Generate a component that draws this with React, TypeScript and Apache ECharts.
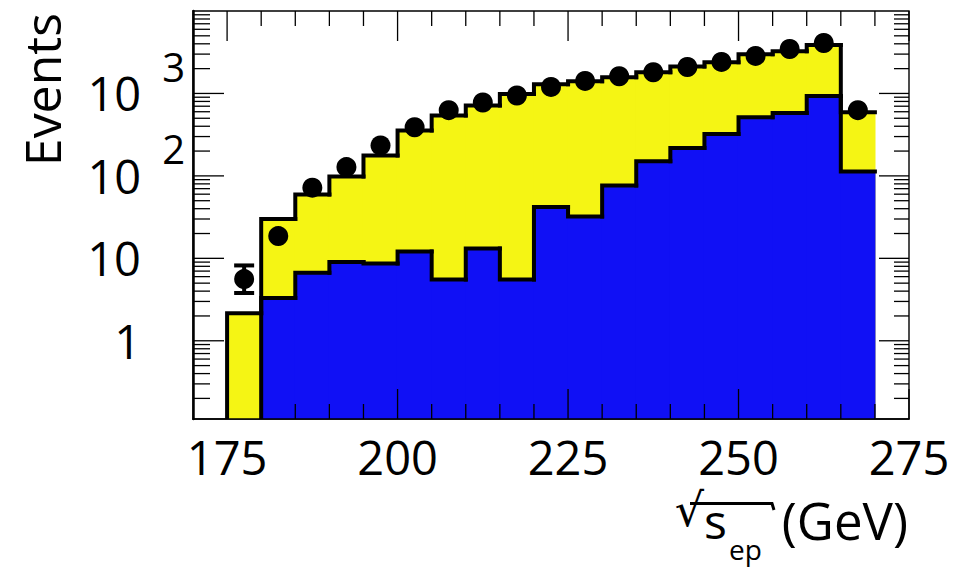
import React, { useEffect, useRef } from 'react';
import * as echarts from 'echarts';

// ---- data ----
const binEdges = [175, 180, 185, 190, 195, 200, 205, 210, 215, 220, 225, 230, 235, 240, 245, 250, 255, 260, 265, 270];
const totalMC = [2.15, 30.1, 59.5, 98, 177, 355, 540, 713, 986, 1290, 1406, 1571, 1806, 2118, 2388, 2985, 3246, 3872, 592];
const blueMC = [0, 3.3, 6.67, 9.0, 8.67, 12.1, 5.55, 13.2, 5.55, 41.8, 32.2, 76.5, 151, 218, 323, 515, 580, 933, 113];
const dataCounts = [5.6, 18.6, 72, 128, 234, 389, 626, 776, 944, 1199, 1419, 1616, 1806, 2094, 2410, 2851, 3459, 4094, 626];
// error bars that are visible outside the markers (others hidden by the marker)
const dataErrLow: (number | null)[] = [3.8, null, null, null, null, null, null, null, null, null, null, null, null, null, null, null, null, null, null];
const dataErrHigh: (number | null)[] = [8.2, null, null, null, null, null, null, null, null, null, null, null, null, null, null, null, null, null, null];

const xTickLabels = [175, 200, 225, 250, 275];
const xMinorTicks = [180, 185, 190, 195, 205, 210, 215, 220, 230, 235, 240, 245, 255, 260, 265, 270];
const yLabelValues = [1, 10, 100, 1000];
const yLabelBases = ['1', '10', '10', '10'];
const yLabelExps = ['', '', '2', '3'];
const yMinorTicks = [
  0.2, 0.3, 0.4, 0.5, 0.6, 0.7, 0.8, 0.9,
  2, 3, 4, 5, 6, 7, 8, 9,
  20, 30, 40, 50, 60, 70, 80, 90,
  200, 300, 400, 500, 600, 700, 800, 900,
  2000, 3000, 4000, 5000, 6000, 7000, 8000, 9000,
];

const X_MIN = 170;
const X_MAX = 275;
const Y_MIN = 0.1125;
const Y_MAX = 10000;

const FONT = '"Open Sans", "Noto Sans", sans-serif';
const YELLOW = '#F5F514';
const BLUE = '#1010F5';

function histSeries(values: number[], color: string, part: 'fill' | 'line', z: number) {
  return {
    type: 'custom',
    coordinateSystem: 'cartesian2d',
    clip: true,
    silent: true,
    z,
    encode: { x: [0, 1], y: 2 },
    data: values.map((v, i) => [binEdges[i], binEdges[i + 1], v]),
    renderItem: (params: any, api: any) => {
      const i = params.dataIndex;
      const lo = api.value(0);
      const hi = api.value(1);
      const v = api.value(2);
      const cs = params.coordSys;
      const bottom = cs.y + cs.height;
      const xl = api.coord([lo, 1])[0];
      const xr = api.coord([hi, 1])[0];
      const yTop = v > 0 ? api.coord([lo, v])[1] : bottom;
      if (part === 'fill') {
        if (!(v > 0)) return null;
        return {
          type: 'rect',
          shape: { x: xl - 0.6, y: yTop, width: xr - xl + 1.2, height: bottom - yTop },
          style: { fill: color, stroke: null },
        };
      }
      const prev = i > 0 ? values[i - 1] : 0;
      if (!(prev > 0) && !(v > 0)) return null;
      const prevY = prev > 0 ? api.coord([lo, prev])[1] : bottom;
      return {
        type: 'polyline',
        shape: { points: [[xl, prevY], [xl, yTop], [xr, yTop]] },
        style: { stroke: '#000', lineWidth: 4, fill: null, lineCap: 'square', lineJoin: 'miter' },
      };
    },
  };
}

export default function App() {
  const ref = useRef<HTMLDivElement>(null);
  useEffect(() => {
    if (!ref.current) return;
    const chart = echarts.init(ref.current, undefined, { renderer: 'svg' });
    const centers = dataCounts.map((_, i) => (binEdges[i] + binEdges[i + 1]) / 2);
    const errData: number[][] = [];
    dataCounts.forEach((_, i) => {
      if (dataErrLow[i] != null && dataErrHigh[i] != null) {
        errData.push([centers[i], dataErrLow[i] as number, dataErrHigh[i] as number]);
      }
    });
    const yTickData = [
      ...yLabelValues.map((v) => [X_MIN, v, 1]),
      ...yMinorTicks.map((v) => [X_MIN, v, 0]),
    ];
    const xTickData = [
      ...xTickLabels.map((v) => [v, 1, 1]),
      ...xMinorTicks.map((v) => [v, 1, 0]),
    ];
    const tickStyle = { stroke: '#000', lineWidth: 1.3 };

    const option: any = {
      animation: false,
      backgroundColor: '#fff',
      grid: {
        left: 193, right: 61, top: 11, bottom: 148,
        show: true, borderColor: '#000', borderWidth: 1.4, backgroundColor: 'transparent',
        containLabel: false, outerBoundsMode: 'none',
      },
      xAxis: {
        type: 'value', min: X_MIN, max: X_MAX, interval: 5, z: 10,
        axisLine: { show: true, onZero: false, lineStyle: { color: '#000', width: 1.5 } },
        axisTick: { show: false },
        splitLine: { show: false },
        axisLabel: {
          formatter: (v: number) => (xTickLabels.includes(v) ? String(v) : ''),
          fontSize: 47, fontFamily: FONT, color: '#000', margin: 14,
          showMinLabel: true, showMaxLabel: true,
        },
      },
      yAxis: {
        type: 'log', logBase: 10, min: Y_MIN, max: Y_MAX, z: 10,
        axisLine: { show: true, lineStyle: { color: '#000', width: 2.5 } },
        axisTick: { show: false },
        minorTick: { show: false },
        splitLine: { show: false },
        axisLabel: {
          margin: 8,
          fontFamily: FONT, color: '#000', fontSize: 47,
          formatter: (v: number) => {
            const idx = yLabelValues.findIndex((t) => Math.abs(t - v) / t < 1e-6);
            if (idx < 0) return '';
            return yLabelExps[idx]
              ? `{b|${yLabelBases[idx]}}{e|${yLabelExps[idx]}}`
              : `{p|${yLabelBases[idx]}}`;
          },
          rich: {
            b: { fontSize: 47, fontFamily: FONT, color: '#000' },
            p: { fontSize: 47, fontFamily: FONT, color: '#000', padding: [0, 44, 0, 0] },
            e: { fontSize: 40, fontFamily: FONT, color: '#000', padding: [0, 0, 54, 21] },
          },
        },
      },
      graphic: [
        {
          type: 'text', x: 42, y: 13, rotation: Math.PI / 2,
          style: { text: 'Events', fontSize: 50, fontFamily: FONT, fill: '#000', align: 'right', verticalAlign: 'middle' },
        },
        {
          type: 'text', x: 908, y: 520,
          style: {
            text: '{r|√}{s|s}{sub|ep}{g|(GeV)}',
            align: 'right', verticalAlign: 'middle', fill: '#000',
            rich: {
              r: { fontSize: 46, fontFamily: '"DejaVu Sans", sans-serif', fill: '#000', padding: [0, 0, 20, 0] },
              s: { fontSize: 48, fontFamily: FONT, fill: '#000' },
              sub: { fontSize: 28, fontFamily: FONT, fill: '#000', padding: [58, 0, 0, 2] },
              g: { fontSize: 51, fontFamily: FONT, fill: '#000', padding: [0, 0, 0, 20] },
            },
          },
        },
        {
          type: 'polyline',
          shape: { points: [[690, 503.5], [772, 503.5], [774, 510]] },
          style: { stroke: '#000', lineWidth: 3, fill: null },
        },
      ],
      series: [
        histSeries(totalMC, YELLOW, 'fill', 2),
        histSeries(blueMC, BLUE, 'fill', 3),
        histSeries(totalMC, YELLOW, 'line', 4),
        histSeries(blueMC, BLUE, 'line', 5),
        {
          type: 'custom', coordinateSystem: 'cartesian2d', silent: true, z: 6, clip: true,
          encode: { x: 0, y: [1, 2] },
          data: errData,
          renderItem: (params: any, api: any) => {
            const c = api.value(0);
            const lo = api.coord([c, api.value(1)]);
            const hi = api.coord([c, api.value(2)]);
            const st = { stroke: '#000', lineWidth: 4 };
            return {
              type: 'group',
              children: [
                { type: 'line', shape: { x1: lo[0], y1: lo[1], x2: hi[0], y2: hi[1] }, style: st },
                { type: 'line', shape: { x1: lo[0] - 10, y1: lo[1], x2: lo[0] + 10, y2: lo[1] }, style: st },
                { type: 'line', shape: { x1: hi[0] - 10, y1: hi[1], x2: hi[0] + 10, y2: hi[1] }, style: st },
              ],
            };
          },
        },
        {
          type: 'scatter', z: 7, silent: true,
          symbol: 'circle', symbolSize: 20,
          itemStyle: { color: '#000', opacity: 1 },
          data: dataCounts.map((v, i) => [centers[i], v]),
        },
        {
          type: 'custom', coordinateSystem: 'cartesian2d', silent: true, z: 8, clip: false,
          encode: { x: 0, y: 1 },
          data: yTickData,
          renderItem: (params: any, api: any) => {
            const v = api.value(1);
            const major = api.value(2) === 1;
            const p = api.coord([X_MIN, v]);
            const q = api.coord([X_MAX, v]);
            const lenL = major ? 31 : 17;
            const lenR = major ? 30 : 15;
            return {
              type: 'group',
              children: [
                { type: 'line', shape: { x1: p[0], y1: p[1], x2: p[0] + lenL, y2: p[1] }, style: tickStyle },
                { type: 'line', shape: { x1: q[0] - lenR, y1: q[1], x2: q[0], y2: q[1] }, style: tickStyle },
              ],
            };
          },
        },
        {
          type: 'custom', coordinateSystem: 'cartesian2d', silent: true, z: 8, clip: false,
          encode: { x: 0, y: 1 },
          data: xTickData,
          renderItem: (params: any, api: any) => {
            const v = api.value(0);
            const major = api.value(2) === 1;
            const b = api.coord([v, Y_MIN]);
            const t = api.coord([v, Y_MAX]);
            const len = major ? 30 : 15;
            return {
              type: 'group',
              children: [
                { type: 'line', shape: { x1: b[0], y1: b[1], x2: b[0], y2: b[1] - len }, style: tickStyle },
                { type: 'line', shape: { x1: t[0], y1: t[1], x2: t[0], y2: t[1] + len }, style: tickStyle },
              ],
            };
          },
        },
      ],
    };
    chart.setOption(option);
    return () => chart.dispose();
  }, []);
  return <div ref={ref} style={{ position: 'fixed', left: 0, top: 0, width: 970, height: 567, background: '#fff' }} />;
}
